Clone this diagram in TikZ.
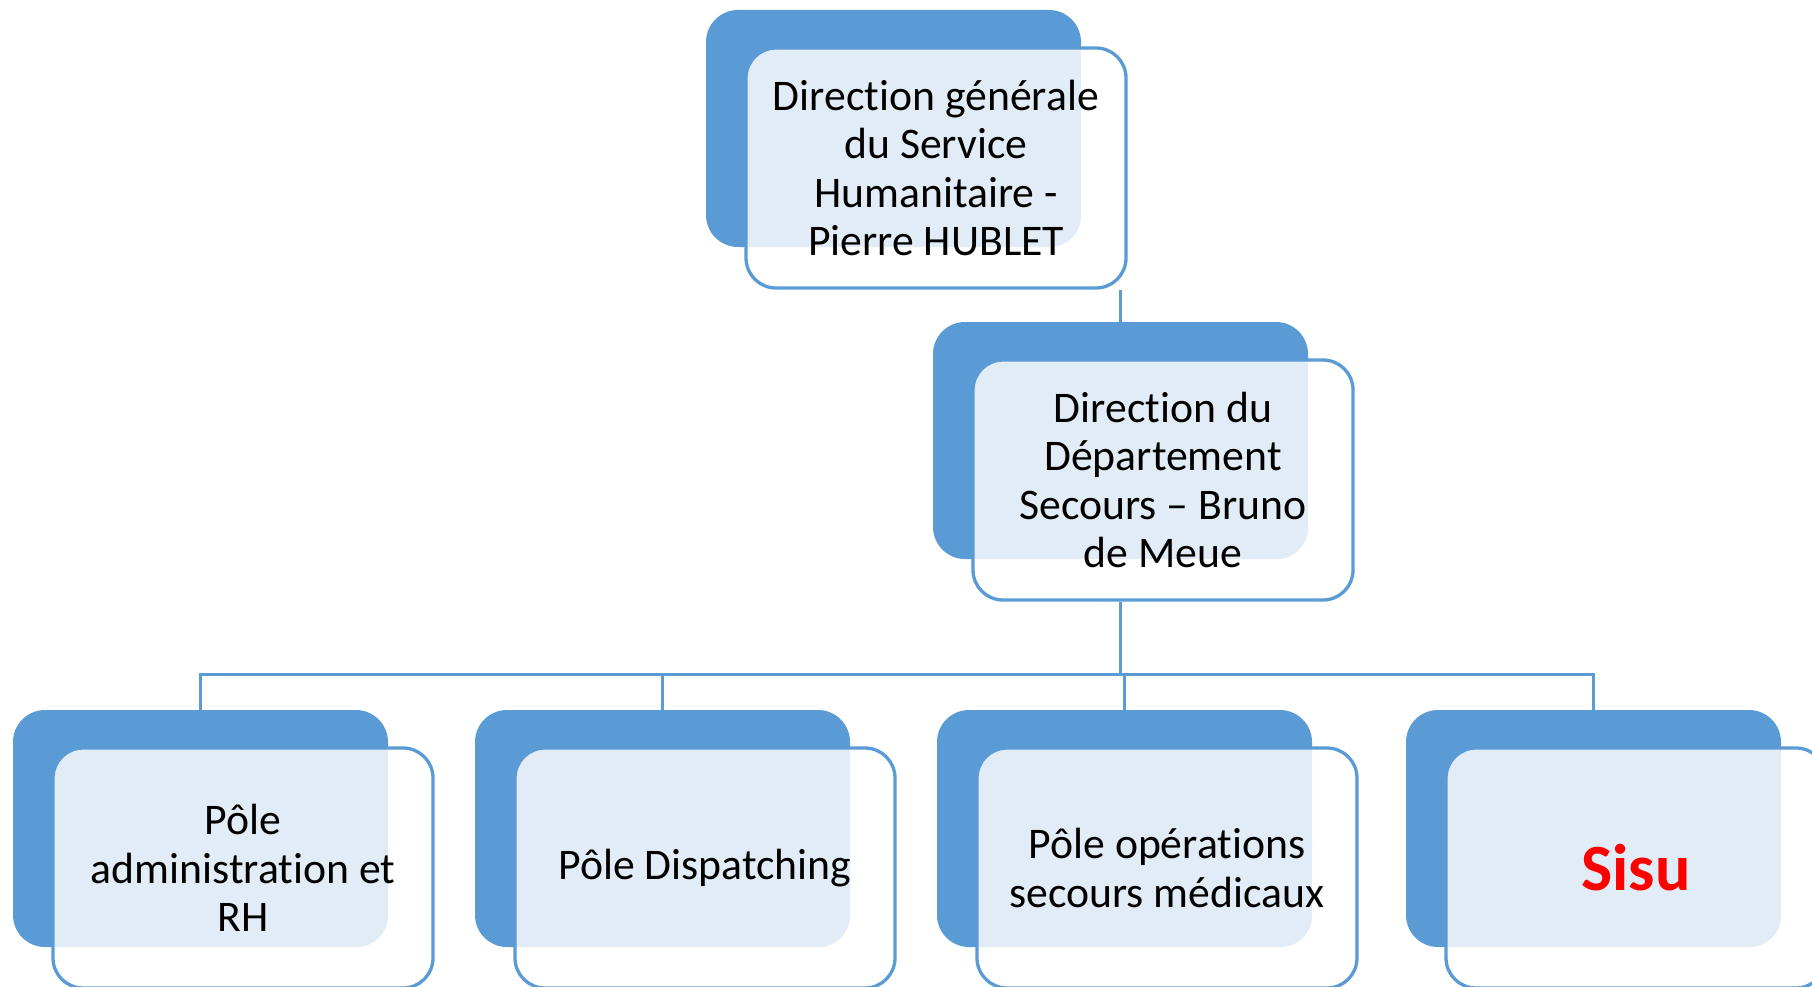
\documentclass[tikz,border=0pt]{standalone}
\usepackage{fontspec}
\setmainfont{Carlito}[RawFeature={-liga}]
\definecolor{obl}{HTML}{5B9BD5}
\definecolor{texc}{HTML}{E2ECF7}
\begin{document}
\begin{tikzpicture}[x=1pt,y=-1pt,
  backbox/.style={fill=obl, draw=none, rounded corners=32pt, minimum width=375pt, minimum height=237pt, inner sep=0pt},
  frontbox/.style={draw=obl, line width=3.3pt, fill=white, rounded corners=30pt, minimum width=380pt, minimum height=240pt, inner sep=0pt, align=center, font=\fontsize{43.7}{48.5}\selectfont},
  texfill/.style={path picture={\fill[texc, rounded corners=32pt] (#1.north west) rectangle (#1.south east);}},
  conn/.style={draw=obl, line width=3.3pt}]
\useasboundingbox (0,0) rectangle (1812,987);
% back boxes
\node[backbox] (b0) at (893.5,128.5) {};
\node[backbox] (b1) at (1120.5,440.5) {};
\node[backbox] (b2) at (200.5,828.5) {};
\node[backbox] (b3) at (662.5,828.5) {};
\node[backbox] (b4) at (1124.5,828.5) {};
\node[backbox] (b5) at (1593.5,828.5) {};
% front boxes
\node[frontbox, texfill=b0] (f0) at (936,168) {Direction générale\\du Service\\Humanitaire -\\Pierre HUBLET};
\node[frontbox, texfill=b1] (f1) at (1163,480) {Direction du\\Département\\Secours – Bruno\\de Meue};
\node[frontbox, texfill=b2] (f2) at (243,868) {Pôle\\administration et\\RH};
\node[frontbox, texfill=b3] (f3) at (705,868) {Pôle Dispatching};
\node[frontbox, texfill=b4] (f4) at (1167,868) {Pôle opérations\\secours médicaux};
\node[frontbox, texfill=b5] (f5) at (1636,868) {\fontsize{66}{72}\selectfont\bfseries\textcolor{red}{Sisu}};
% connectors
\draw[conn] (f0.south -| b1.north) -- (b1.north);
\draw[conn] (f1.south -| b1.north) -- ++(0,73) coordinate (bus);
\foreach \i in {2,3,4,5} \draw[conn] (bus) -| (b\i.north);
\end{tikzpicture}
\end{document}
